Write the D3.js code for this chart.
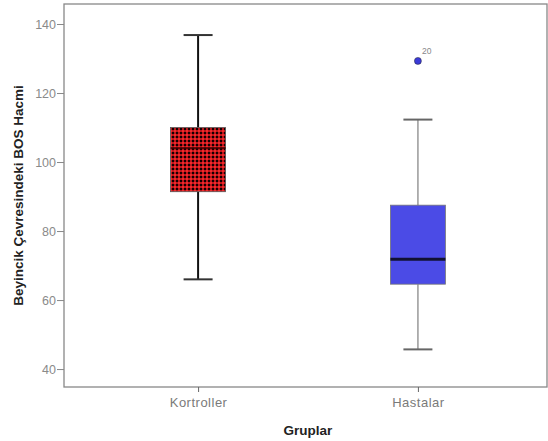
<!DOCTYPE html>
<html>
<head>
<meta charset="utf-8">
<script src="https://cdn.jsdelivr.net/npm/d3@7"></script>
<style>
  body { margin: 0; background: #fff; }
  svg { font-family: "Liberation Sans", Arial, sans-serif; }
</style>
</head>
<body>
<script>
const groups = ["Kortroller", "Hastalar"];
const whiskerLow = [66, 45.7];
const q1 = [91.4, 64.6];
const median = [104.1, 71.8];
const q3 = [110, 87.5];
const whiskerHigh = [136.8, 112.3];
const outliers = [{ group: "Hastalar", value: 129.3, label: "20" }];
const yTicks = [40, 60, 80, 100, 120, 140];

const w = 548, h = 441;
const mLeft = 64, mTop = 4, mRight = 547, mBottom = 387;

const svg = d3.select("body").append("svg").attr("width", w).attr("height", h);

// checkered fill for first box
const pat = svg.append("defs").append("pattern")
  .attr("id", "check").attr("patternUnits", "userSpaceOnUse")
  .attr("width", 4).attr("height", 4);
pat.append("rect").attr("width", 4).attr("height", 4).attr("fill", "#b8161c");
pat.append("rect").attr("width", 2).attr("height", 2).attr("fill", "#140000");
pat.append("rect").attr("x", 2).attr("y", 2).attr("width", 2).attr("height", 2).attr("fill", "#f02a2a");

const x = d3.scalePoint().domain(groups).range([mLeft, mRight + 5]).padding(0.61);
const y = d3.scaleLinear().domain([34.8, 145.8]).range([mBottom, mTop]);

// frame
svg.append("rect")
  .attr("x", mLeft).attr("y", mTop)
  .attr("width", mRight - mLeft).attr("height", mBottom - mTop)
  .attr("fill", "none").attr("stroke", "#888").attr("stroke-width", 1.3);

// y axis
const yAxis = svg.append("g").attr("transform", `translate(${mLeft},0)`)
  .call(d3.axisLeft(y).tickValues(yTicks).tickSize(7).tickPadding(1));
yAxis.select(".domain").remove();
yAxis.selectAll("line").attr("stroke", "#888");
yAxis.selectAll("text").attr("fill", "#8a8a8a").style("font-size", "12.5px");

// x axis
const xAxis = svg.append("g").attr("transform", `translate(0,${mBottom})`)
  .call(d3.axisBottom(x).tickSize(5).tickPadding(6));
xAxis.select(".domain").remove();
xAxis.selectAll("line").attr("stroke", "#666");
xAxis.selectAll("text").attr("fill", "#7a7a7a").style("font-size", "13px")
  .style("letter-spacing", "0.5px");

// axis titles
svg.append("text")
  .attr("transform", `translate(23,${(mTop + mBottom) / 2}) rotate(-90)`)
  .attr("text-anchor", "middle")
  .style("font-size", "13.5px").style("font-weight", "bold").attr("fill", "#222")
  .text("Beyincik Çevresindeki BOS Hacmi");
svg.append("text")
  .attr("x", 308).attr("y", 435).attr("text-anchor", "middle")
  .style("font-size", "13.5px").style("font-weight", "bold").attr("fill", "#222")
  .text("Gruplar");

const boxW = 55, capW = 29;
const styles = [
  { fill: "url(#check)", stroke: "#111", sw: 2, boxStroke: "#555" },
  { fill: "#4b4be6", stroke: "#aaa", sw: 1.8, boxStroke: "#777" }
];

groups.forEach((g, i) => {
  const cx = x(g), s = styles[i];
  const b = svg.append("g");
  // whiskers
  b.append("line").attr("x1", cx).attr("x2", cx)
    .attr("y1", y(q3[i])).attr("y2", y(whiskerHigh[i]))
    .attr("stroke", s.stroke).attr("stroke-width", s.sw);
  b.append("line").attr("x1", cx).attr("x2", cx)
    .attr("y1", y(q1[i])).attr("y2", y(whiskerLow[i]))
    .attr("stroke", s.stroke).attr("stroke-width", s.sw);
  [whiskerHigh[i], whiskerLow[i]].forEach(v => {
    b.append("line").attr("x1", cx - capW / 2).attr("x2", cx + capW / 2)
      .attr("y1", y(v)).attr("y2", y(v))
      .attr("stroke", i === 0 ? "#333" : "#666").attr("stroke-width", 2);
  });
  // box
  b.append("rect")
    .attr("x", cx - boxW / 2).attr("y", y(q3[i]))
    .attr("width", boxW).attr("height", y(q1[i]) - y(q3[i]))
    .attr("fill", s.fill).attr("stroke", s.boxStroke).attr("stroke-width", 0.8);
  // median
  b.append("line").attr("x1", cx - boxW / 2).attr("x2", cx + boxW / 2)
    .attr("y1", y(median[i])).attr("y2", y(median[i]))
    .attr("stroke", i === 0 ? "#3a0000" : "#111133").attr("stroke-width", i === 0 ? 1.5 : 3);
});

// outliers
outliers.forEach(o => {
  svg.append("circle").attr("cx", x(o.group)).attr("cy", y(o.value)).attr("r", 3.5)
    .attr("fill", "#3a3ad8").attr("stroke", "#223").attr("stroke-width", 0.5);
  svg.append("text").attr("x", x(o.group) + 4).attr("y", y(o.value) - 7)
    .style("font-size", "8.5px").attr("fill", "#888").text(o.label);
});
</script>
</body>
</html>
